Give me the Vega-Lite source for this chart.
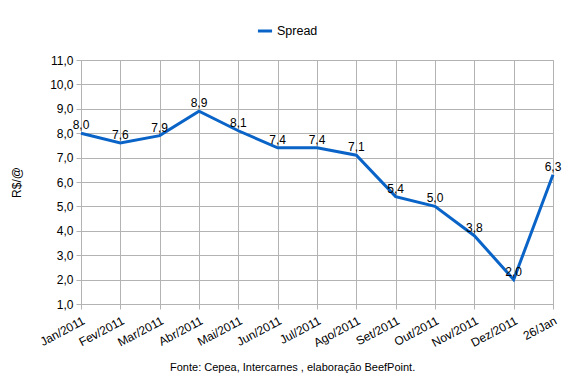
{
  "$schema": "https://vega.github.io/schema/vega-lite/v6.json",
  "width": 472,
  "height": 244,
  "autosize": "none",
  "padding": {"left": 81, "top": 60, "right": 17, "bottom": 78},
  "background": "white",
  "config": {
    "locale": {"number": {"decimal": ",", "thousands": ".", "grouping": [3], "currency": ["R$", ""]}},
    "font": "Liberation Sans",
    "view": {"stroke": "#b3b3b3", "strokeWidth": 1},
    "axis": {"gridColor": "#b3b3b3", "domainColor": "#b3b3b3", "tickColor": "#b3b3b3", "labelColor": "#000000", "labelFontSize": 12, "labelFont": "Liberation Sans", "titleFont": "Liberation Sans", "titleFontWeight": "normal", "titleColor": "#000000"}
  },
  "title": {
    "text": "Fonte: Cepea, Intercarnes , elaboração BeefPoint.",
    "orient": "bottom",
    "anchor": "start",
    "frame": "group",
    "dx": 89,
    "offset": 14,
    "fontSize": 11,
    "fontWeight": "normal",
    "font": "Liberation Sans",
    "color": "#000000"
  },
  "data": {
    "values": [
      {"mes": "Jan/2011", "valor": 8.0, "serie": "Spread"},
      {"mes": "Fev/2011", "valor": 7.6, "serie": "Spread"},
      {"mes": "Mar/2011", "valor": 7.9, "serie": "Spread"},
      {"mes": "Abr/2011", "valor": 8.9, "serie": "Spread"},
      {"mes": "Mai/2011", "valor": 8.1, "serie": "Spread"},
      {"mes": "Jun/2011", "valor": 7.4, "serie": "Spread"},
      {"mes": "Jul/2011", "valor": 7.4, "serie": "Spread"},
      {"mes": "Ago/2011", "valor": 7.1, "serie": "Spread"},
      {"mes": "Set/2011", "valor": 5.4, "serie": "Spread"},
      {"mes": "Out/2011", "valor": 5.0, "serie": "Spread"},
      {"mes": "Nov/2011", "valor": 3.8, "serie": "Spread"},
      {"mes": "Dez/2011", "valor": 2.0, "serie": "Spread"},
      {"mes": "26/Jan", "valor": 6.3, "serie": "Spread"}
    ]
  },
  "encoding": {
    "x": {
      "field": "mes", "type": "ordinal", "sort": null,
      "scale": {"type": "point", "padding": 0},
      "axis": {"title": null, "labelAngle": -28, "labelAlign": "right", "labelBaseline": "top", "grid": true, "tickSize": 5, "labelPadding": 6}
    },
    "y": {
      "field": "valor", "type": "quantitative",
      "scale": {"domain": [1, 11], "nice": false, "zero": false},
      "axis": {"title": "R$/@", "values": [1,2,3,4,5,6,7,8,9,10,11], "format": ".1f", "tickSize": 5, "labelPadding": 3, "titleFontSize": 12, "titlePadding": 26}
    }
  },
  "layer": [
    {
      "mark": {"type": "line", "strokeWidth": 3, "strokeJoin": "miter"},
      "encoding": {
        "color": {
          "field": "serie", "type": "nominal",
          "scale": {"range": ["#0a64c8"]},
          "legend": {"title": null, "orient": "none", "legendX": 175, "legendY": -38, "symbolType": "stroke", "symbolStrokeWidth": 3, "symbolSize": 200, "labelFontSize": 12.5, "labelColor": "#000000", "labelFont": "Liberation Sans", "labelOffset": 3}
        }
      }
    },
    {
      "mark": {"type": "text", "baseline": "alphabetic", "dy": -4, "fontSize": 12, "color": "#000000"},
      "encoding": {
        "text": {"field": "valor", "type": "quantitative", "format": ".1f"}
      }
    }
  ]
}
